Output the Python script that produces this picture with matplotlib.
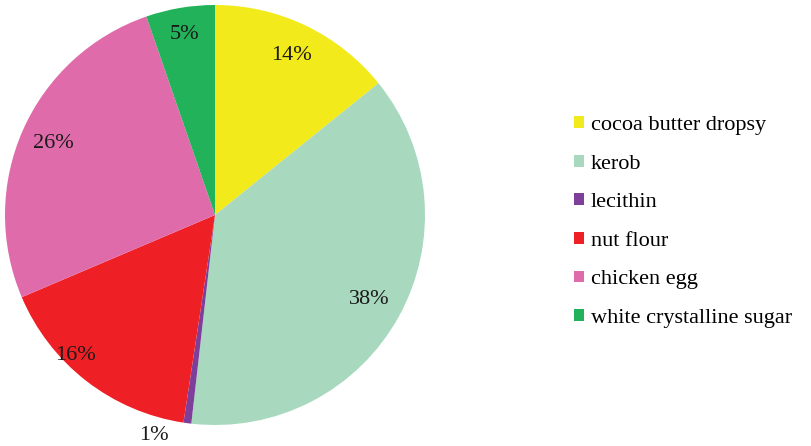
import numpy as np
import matplotlib.pyplot as plt

plt.rcParams['font.family'] = ['Liberation Serif', 'DejaVu Serif']

labels = ["cocoa butter dropsy", "kerob", "lecithin", "nut flour",
          "chicken egg", "white crystalline sugar"]
values = [14.2, 37.6, 0.6, 16.2, 26.1, 5.3]
colors = ["#F2EA1A", "#A8D8BE", "#7E3F9A", "#EE2026", "#E06BAA", "#22B259"]

fig = plt.figure(figsize=(8.12, 4.46), dpi=100)
ax = fig.add_axes([5 / 812, 21 / 446, 420 / 812, 420 / 446])

wedges, texts, autotexts = ax.pie(values, colors=colors, startangle=90,
                                  counterclock=False, autopct='%.0f%%',
                                  pctdistance=0.84,
                                  textprops={'fontsize': 16, 'color': '#1a1a1a'})
ax.set_xlim(-1, 1)
ax.set_ylim(-1, 1)


def move_label(i, r, shift):
    w = wedges[i]
    ang = np.deg2rad((w.theta1 + w.theta2) / 2 + shift)
    autotexts[i].set_position((r * np.cos(ang), r * np.sin(ang)))
    autotexts[i].set_clip_on(False)


# small slice label sits outside the pie
move_label(2, 1.09, -8)
move_label(3, 0.94, -7)
move_label(5, 0.87, 0)

fig.legend(wedges, labels, loc='center left', bbox_to_anchor=(554 / 812, 0.502),
           frameon=False, fontsize=16, handlelength=0.45, handleheight=0.45,
           handletextpad=0.3, labelspacing=0.88)

plt.savefig("out.png", dpi=100)
